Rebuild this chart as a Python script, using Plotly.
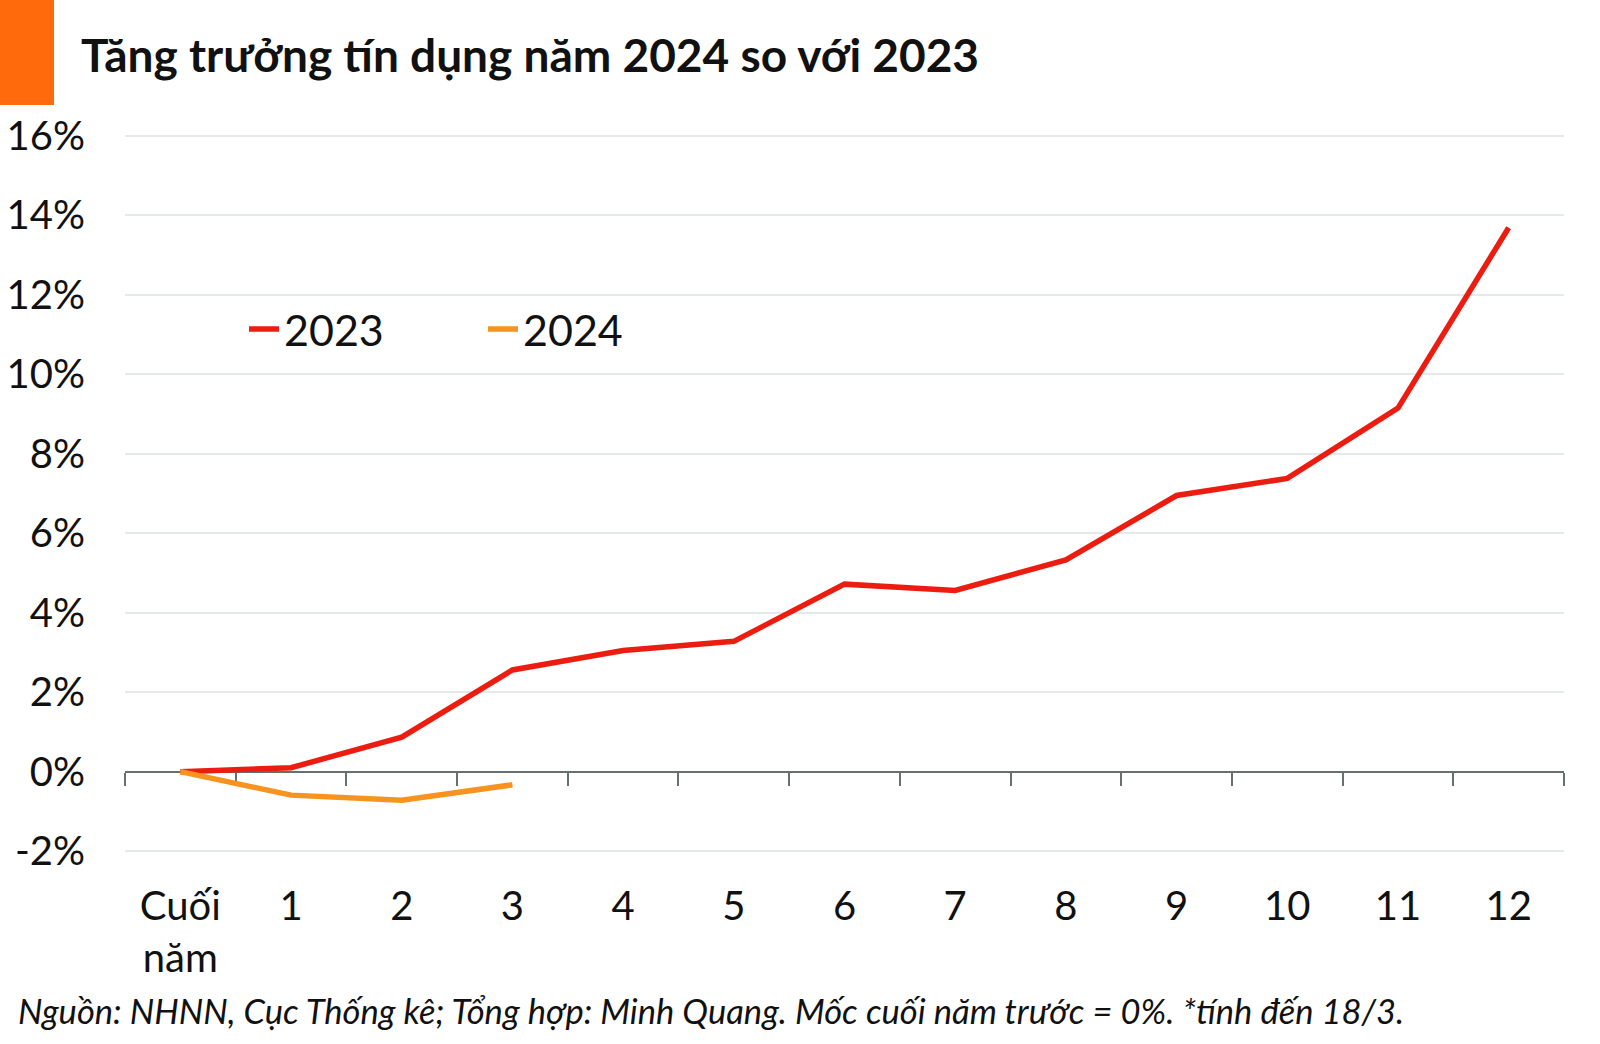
import plotly.graph_objects as go

# ---- data ----
categories = ["Cuối<br>năm", "1", "2", "3", "4", "5", "6", "7", "8", "9", "10", "11", "12"]
series_2023 = [0.0, 0.10, 0.87, 2.56, 3.05, 3.28, 4.72, 4.56, 5.33, 6.95, 7.38, 9.15, 13.69]
categories_2024 = ["Cuối<br>năm", "1", "2", "3"]
series_2024 = [0.0, -0.59, -0.72, -0.33]
y_ticks = [-2, 0, 2, 4, 6, 8, 10, 12, 14, 16]
y_tick_labels = [f"{v}%" for v in y_ticks]

title_text = "Tăng trưởng tín dụng năm 2024 so với 2023"
source_text = "Nguồn: NHNN, Cục Thống kê; Tổng hợp: Minh Quang. Mốc cuối năm trước = 0%. *tính đến 18/3."

# ---- layout geometry (pixels) ----
W, H = 1600, 1044
plot_left, plot_right = 125, 1564
plot_top, plot_bottom = 120, 875
y_min, y_max = -2.6, 16.4

def px_x(px):
    return (px - plot_left) / (plot_right - plot_left)

def px_y(py):
    return (plot_bottom - py) / (plot_bottom - plot_top)

FONT = "Lato, 'Open Sans', sans-serif"
RED = "#EC1D10"
ORANGE = "#F7931E"
AXIS_GRAY = "#66706f"

fig = go.Figure()
fig.add_trace(go.Scatter(x=categories, y=series_2023, mode="lines", name="2023",
                         line=dict(color=RED, width=5.5), xaxis="x", yaxis="y"))
fig.add_trace(go.Scatter(x=categories_2024, y=series_2024, mode="lines", name="2024",
                         line=dict(color=ORANGE, width=5.5), xaxis="x", yaxis="y"))
# invisible helper trace so the zero-line axis (with boundary ticks) is drawn
fig.add_trace(go.Scatter(x=list(range(len(categories))), y=series_2023, mode="lines",
                         line=dict(width=0, color="rgba(0,0,0,0)"), opacity=0,
                         hoverinfo="skip", showlegend=False, xaxis="x2", yaxis="y"))

zero_pos = (0 - y_min) / (y_max - y_min)

fig.update_layout(
    width=W, height=H,
    paper_bgcolor="white", plot_bgcolor="white",
    margin=dict(l=plot_left, r=W - plot_right, t=plot_top, b=H - plot_bottom),
    font=dict(family=FONT, color="#111111", size=40),
    title=dict(text=f"<b>{title_text}</b>", xref="container", yref="container",
               x=81 / W, xanchor="left", y=1 - 56 / H, yanchor="middle",
               font=dict(family=FONT, size=46, color="#111111")),
    xaxis=dict(type="category", categoryorder="array", categoryarray=categories,
               range=[-0.5, len(categories) - 0.5], showgrid=False, showline=False,
               ticks="", zeroline=False, automargin=False, ticklabelstandoff=4,
               tickfont=dict(size=40, color="#111111")),
    xaxis2=dict(overlaying="x", anchor="free", position=zero_pos, type="linear",
                range=[-0.5, len(categories) - 0.5], tickmode="linear", tick0=-0.5, dtick=1,
                showticklabels=False, ticks="outside", ticklen=13, tickwidth=2,
                tickcolor=AXIS_GRAY, showline=True, linecolor=AXIS_GRAY, linewidth=2,
                showgrid=False, zeroline=False, layer="below traces", automargin=False),
    yaxis=dict(range=[y_min, y_max], tickvals=y_ticks, ticktext=y_tick_labels,
               showgrid=True, gridcolor="#E6E9E9", gridwidth=2, zeroline=False,
               showline=False, ticks="", ticklabelstandoff=39, automargin=False,
               tickfont=dict(size=40, color="#111111")),
    legend=dict(orientation="h", x=px_x(244), xanchor="left", y=px_y(329), yanchor="middle",
                bgcolor="rgba(0,0,0,0)", font=dict(size=43, color="#111111"),
                entrywidth=194, itemwidth=30, traceorder="normal"),
    showlegend=True,
    shapes=[
        # white box behind legend hiding gridlines
        dict(type="rect", xref="paper", yref="paper", x0=px_x(143), x1=px_x(711),
             y0=px_y(400), y1=px_y(258), fillcolor="white", line=dict(width=0), layer="between"),
        # orange accent block
        dict(type="rect", xref="paper", yref="paper", x0=px_x(-10), x1=px_x(54),
             y0=px_y(105), y1=px_y(-10), fillcolor="#FF6A0C", line=dict(width=0), layer="above"),
    ],
    annotations=[
        dict(text=source_text, xref="paper", yref="paper", x=px_x(16), xanchor="left",
             y=px_y(1010), yanchor="middle", showarrow=False,
             font=dict(family=FONT, size=34.5, style="italic", color="#111111")),
    ],
)

fig.write_html("out.html")
